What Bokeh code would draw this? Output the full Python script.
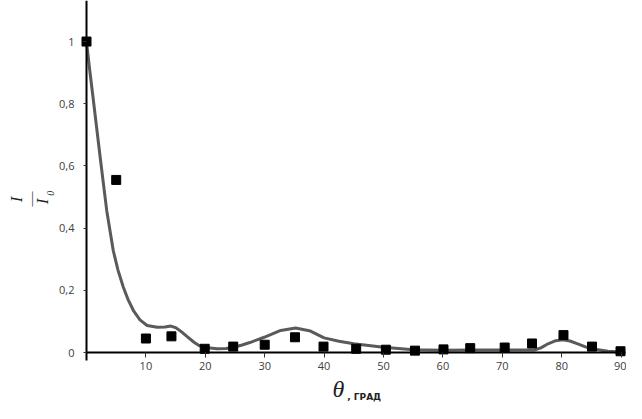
import math
from bokeh.plotting import figure
from bokeh.models import FixedTicker, Label, Range1d
from bokeh.embed import file_html
from bokeh.resources import INLINE

# Data
theta_pts = [0, 5, 10, 14.3, 19.9, 24.7, 30, 35.1, 39.9, 45.4, 50.4, 55.3, 60.1, 64.6, 70.4, 75, 80.3, 85.1, 89.9]
ratio_pts = [1.0, 0.555, 0.045, 0.052, 0.012, 0.019, 0.025, 0.049, 0.019, 0.012, 0.009, 0.006, 0.010, 0.014, 0.016, 0.029, 0.056, 0.019, 0.004]

theta_curve = [0, 0.5, 1.1, 2.3, 3.4, 4.5, 5.3, 6.2, 7.0, 7.9, 9.0, 10.2, 11.9, 13.2, 14.2, 15.1, 15.9, 17.0, 18.1,
               19.0, 20, 22, 23.5, 24.8, 26.2, 27.5, 29.9, 32.7, 35.2, 37.7, 40, 42.5, 45, 50, 53, 55, 60, 65, 70,
               75.4, 76.5, 77.7, 79.0, 80.2, 81.4, 82.7, 84, 85, 87.8, 90]
ratio_curve = [1.0, 0.915, 0.82, 0.628, 0.457, 0.328, 0.265, 0.21, 0.17, 0.135, 0.105, 0.087, 0.081, 0.082, 0.085,
               0.079, 0.068, 0.05, 0.033, 0.022, 0.016, 0.012, 0.013, 0.017, 0.024, 0.032, 0.049, 0.071, 0.079,
               0.069, 0.047, 0.036, 0.028, 0.017, 0.012, 0.009, 0.007, 0.008, 0.008, 0.008, 0.015, 0.028, 0.038,
               0.041, 0.037, 0.028, 0.018, 0.012, 0.004, 0.002]

x_ticks = [10, 20, 30, 40, 50, 60, 70, 80, 90]
y_ticks = [0, 0.2, 0.4, 0.6, 0.8, 1.0]
y_tick_labels = ["0", "0,2", "0,4", "0,6", "0,8", "1"]

p = figure(width=626, height=403, output_backend="svg", toolbar_location=None,
           x_range=Range1d(-14.48, 90.91), y_range=Range1d(-0.164, 1.132),
           min_border_left=0, min_border_right=0, min_border_top=0, min_border_bottom=0)
p.outline_line_color = None
p.grid.visible = False
p.background_fill_color = "white"

p.line(theta_curve, ratio_curve, line_color="#5a5a5a", line_width=3, line_join="round", line_cap="round")
p.scatter(theta_pts, ratio_pts, marker="square", size=9, fill_color="black", line_color="black")

tick_color = "#404040"
p.xaxis.fixed_location = 0
p.xaxis.bounds = (0, 90.8)
p.xaxis.ticker = FixedTicker(ticks=x_ticks)
p.xaxis.axis_line_color = "black"
p.xaxis.axis_line_width = 2
p.xaxis.major_tick_line_color = "#333333"
p.xaxis.major_tick_out = 5
p.xaxis.major_tick_in = 0
p.xaxis.minor_tick_line_color = None
p.xaxis.major_label_standoff = 4
p.xaxis.major_label_text_font = "Open Sans"
p.xaxis.major_label_text_font_size = "11px"
p.xaxis.major_label_text_color = tick_color

p.yaxis.fixed_location = 0
p.yaxis.bounds = (-0.027, 1.132)
p.yaxis.ticker = FixedTicker(ticks=y_ticks)
p.yaxis.major_label_overrides = {t: l for t, l in zip(y_ticks, y_tick_labels)}
p.yaxis.axis_line_color = "black"
p.yaxis.axis_line_width = 2
p.yaxis.major_tick_line_color = "#333333"
p.yaxis.major_tick_out = 3
p.yaxis.major_tick_in = 0
p.yaxis.minor_tick_line_color = None
p.yaxis.major_label_standoff = 9
p.yaxis.major_label_text_font = "Open Sans"
p.yaxis.major_label_text_font_size = "11px"
p.yaxis.major_label_text_color = tick_color

serif = "Liberation Serif"
rot = math.pi / 2
# y-axis label: I / I0 fraction, rotated
p.add_layout(Label(x=-11.8, y=0.492, text="I", angle=rot, text_font=serif, text_font_style="italic",
                   text_font_size="17px", text_align="center", text_baseline="middle", text_color="#222222"))
p.add_layout(Label(x=-9.4, y=0.494, text="—", angle=rot, text_font=serif,
                   text_font_size="15px", text_align="center", text_baseline="middle", text_color="#444444"))
p.add_layout(Label(x=-7.4, y=0.486, text="I", angle=rot, text_font=serif, text_font_style="italic",
                   text_font_size="17px", text_align="center", text_baseline="middle", text_color="#222222"))
p.add_layout(Label(x=-6.1, y=0.512, text="0", angle=rot, text_font=serif, text_font_style="italic",
                   text_font_size="10px", text_align="center", text_baseline="middle", text_color="#222222"))

# x-axis label: θ , ГРАД
p.add_layout(Label(x=42.4, y=-0.1158, text="θ", text_font=serif, text_font_style="italic",
                   text_font_size="24px", text_align="center", text_baseline="middle", text_color="#222222"))
p.add_layout(Label(x=43.9, y=-0.1447, text=", ГРАД", text_font="DejaVu Sans", text_font_style="bold",
                   text_font_size="9px", text_align="left", text_baseline="middle", text_color="#222222"))

open("out.html", "w").write(file_html(p, INLINE))
